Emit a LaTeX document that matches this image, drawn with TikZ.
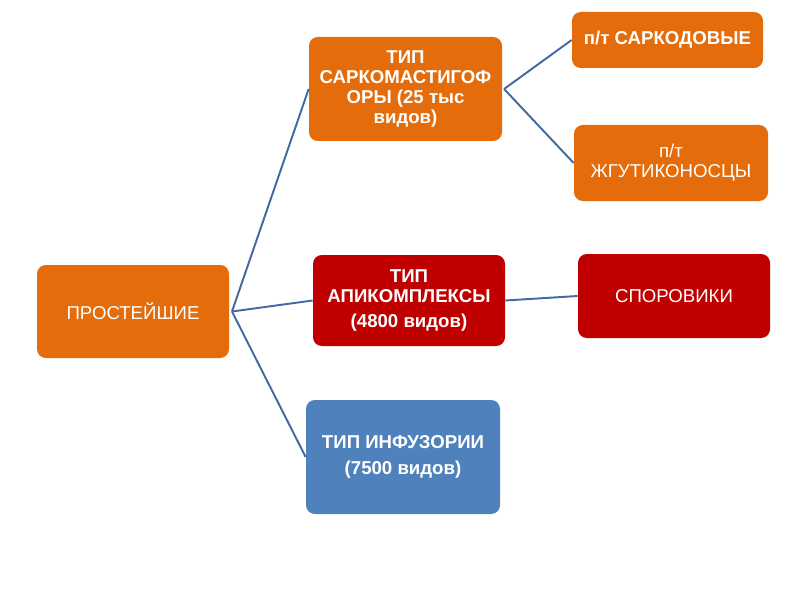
\documentclass[tikz,border=0pt]{standalone}
\usepackage{fontspec}
\setmainfont{Liberation Sans}
\definecolor{orng}{RGB}{228,108,10}
\definecolor{dred}{RGB}{192,0,0}
\definecolor{sblue}{RGB}{79,129,189}
\definecolor{linkc}{RGB}{66,106,160}
\usepackage{tikz}

\begin{document}
\begin{tikzpicture}[scale=1.0,
  box/.style={rounded corners=5pt, text=white, align=center,
    font=\fontsize{10.6}{11.4}\selectfont, inner sep=2pt},
  boldbox/.style={box, font=\bfseries\fontsize{10.6}{11.4}\selectfont},
  link/.style={linkc, line width=1.1pt}]
  %% Frame
  \useasboundingbox[fill=white] (0,0) rectangle (16,12);

  %% Root
  \node[box, fill=orng, minimum width=3.84cm, minimum height=1.86cm]
    (prost) at (2.66,5.77) {ПРОСТЕЙШИЕ};

  %% Types
  \node[boldbox, fill=orng, minimum width=3.86cm, minimum height=2.08cm]
    (sarko) at (8.11,10.22) {ТИП\\САРКОМАСТИГОФ\\ОРЫ (25 тыс\\видов)};
  \node[boldbox, fill=dred, minimum width=3.84cm, minimum height=1.82cm]
    (apik) at (8.18,5.99) {ТИП\\АПИКОМПЛЕКСЫ\\[3pt](4800 видов)};
  \node[boldbox, fill=sblue, minimum width=3.88cm, minimum height=2.28cm]
    (infuz) at (8.06,2.86) {ТИП ИНФУЗОРИИ\\[3pt](7500 видов)};

  %% Subtypes / classes
  \node[boldbox, fill=orng, minimum width=3.82cm, minimum height=1.12cm]
    (sarkod) at (13.35,11.2) {п/т САРКОДОВЫЕ};
  \node[box, fill=orng, minimum width=3.88cm, minimum height=1.52cm]
    (zhgut) at (13.42,8.74) {п/т\\ЖГУТИКОНОСЦЫ};
  \node[box, fill=dred, minimum width=3.84cm, minimum height=1.68cm]
    (sporo) at (13.48,6.08) {СПОРОВИКИ};

  %% Connectors
  \draw[link] ([xshift=1.5pt]prost.east) -- (sarko.west);
  \draw[link] ([xshift=1.5pt]prost.east) -- (apik.west);
  \draw[link] ([xshift=1.5pt]prost.east) -- (infuz.west);
  \draw[link] ([xshift=1pt]sarko.east) -- (sarkod.west);
  \draw[link] ([xshift=1pt]sarko.east) -- (zhgut.west);
  \draw[link] (apik.east) -- (sporo.west);
\end{tikzpicture}
\end{document}
